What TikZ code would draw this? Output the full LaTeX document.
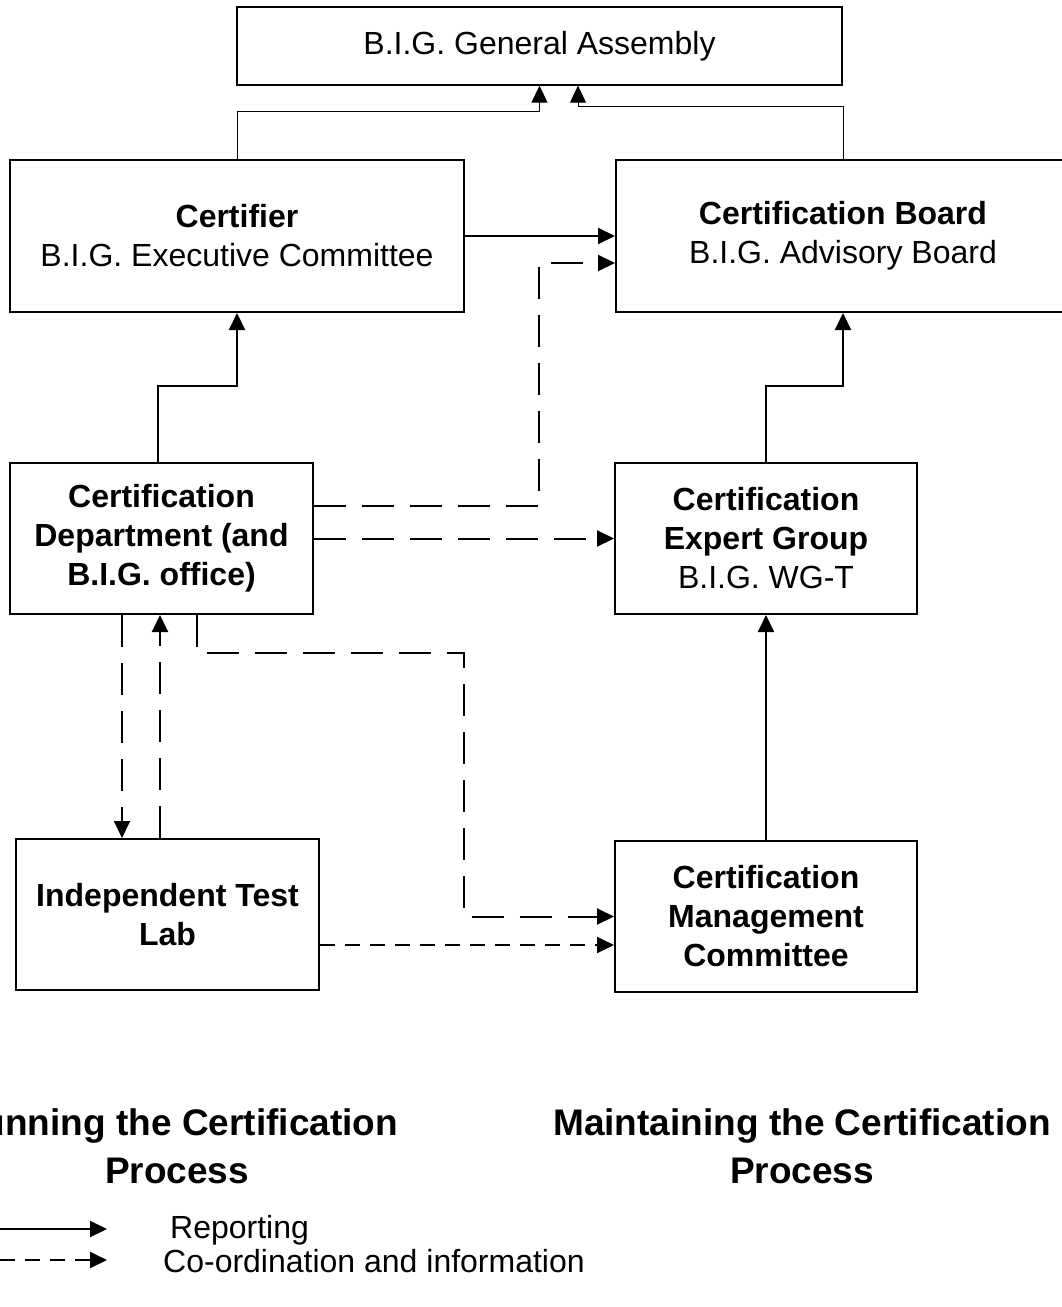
\documentclass[tikz,border=0pt]{standalone}
\usepackage{fontspec}
\setmainfont{Liberation Sans}
\usepackage{tikz}
\usetikzlibrary{arrows.meta, calc}

\tikzset{
	box/.style={draw, line width=2pt, rectangle, align=center, inner sep=0pt, font=\fontsize{32pt}{39pt}\selectfont},
	report/.style={line width=2pt, -{Triangle[length=17pt, width=16pt]}},
	upward/.style={line width=1pt, -{Triangle[length=17pt, width=16pt]}},
	coord/.style={report, dash pattern=on 32pt off 16pt},
	info/.style={report, dash pattern=on 15pt off 10pt},
	heading/.style={align=center, font=\fontsize{37pt}{48pt}\selectfont\bfseries},
	legendtext/.style={anchor=west, inner sep=0pt, font=\fontsize{32pt}{39pt}\selectfont}
}

\begin{document}
\begin{tikzpicture}[x=1pt, y=-1pt]
	\useasboundingbox (0,0) rectangle (1061,1307);
	% boxes
	\node[box, line width=1.3pt, minimum width=605pt, minimum height=78pt] (ga) at (539.5,46) {B.I.G. General Assembly};
	\node[box, minimum width=454pt, minimum height=152pt] (certifier) at (237,236) {\textbf{Certifier}\\B.I.G. Executive Committee};
	\node[box, minimum width=454pt, minimum height=152pt] (board) at (843,236) {\textbf{Certification Board}\\B.I.G. Advisory Board};
	\node[box, minimum width=303pt, minimum height=151pt] (dept) at (161.5,538.5) {\textbf{Certification}\\\textbf{Department (and}\\\textbf{B.I.G. office)}};
	\node[box, minimum width=302pt, minimum height=151pt] (expert) at (766,538.5) {\textbf{Certification}\\\textbf{Expert Group}\\B.I.G. WG-T};
	\node[box, minimum width=303pt, minimum height=151pt] (lab) at (167.5,914.5) {\textbf{Independent Test}\\\textbf{Lab}};
	\node[box, minimum width=302pt, minimum height=151pt] (mgmt) at (766,916.5) {\textbf{Certification}\\\textbf{Management}\\\textbf{Committee}};

	% reporting lines
	\draw[upward] (certifier.north) -- ++(0,-48) -| (ga.south);
	\draw[upward] (board.north) -- ++(0,-53) -| ([xshift=38.5pt]ga.south);
	\draw[report] (certifier.east) -- (board.west);
	\draw[report] ([xshift=-3.5pt]dept.north) -- ++(0,-76) -| (certifier.south);
	\draw[report] (expert.north) -- ++(0,-76) -| (board.south);
	\draw[report] (mgmt.north) -- (expert.south);

	% co-ordination lines
	\coordinate (dn) at ([xshift=-39.5pt]dept.south);
	\coordinate (up) at ([xshift=-7.5pt]lab.north);
	\draw[coord] ([yshift=32.5pt]dept.east) -- ++(225,0) |- ([yshift=-27pt]board.west);
	\draw[coord] (dept.east) -- (expert.west);
	\draw[coord] (dn) -- (dn |- lab.north);
	\draw[coord] (up) -- (up |- dept.south);
	\draw[coord] ([xshift=35.5pt]dept.south) -- ++(0,38) -- ++(267,0) |- (mgmt.west);
	\draw[info] ([yshift=-30.5pt]lab.east) -- ([yshift=-28.5pt]mgmt.west);

	% headings
	\node[heading] (running) at (177,1146) {Running the Certification\\Process};
	\node[heading] (maintaining) at (802,1146) {Maintaining the Certification\\Process};

	% legend
	\node[legendtext] (lgrep) at (170,1230) {Reporting};
	\node[legendtext] (lgco) at (163,1261) {Co-ordination and information};
	\coordinate (lga) at (0,1229);
	\coordinate (lgb) at (107,1229);
	\coordinate (lgc) at (0,1260);
	\coordinate (lgd) at (107,1260);
	\draw[report] (lga) -- (lgb);
	\draw[info] (lgc) -- (lgd);

\end{tikzpicture}
\end{document}
